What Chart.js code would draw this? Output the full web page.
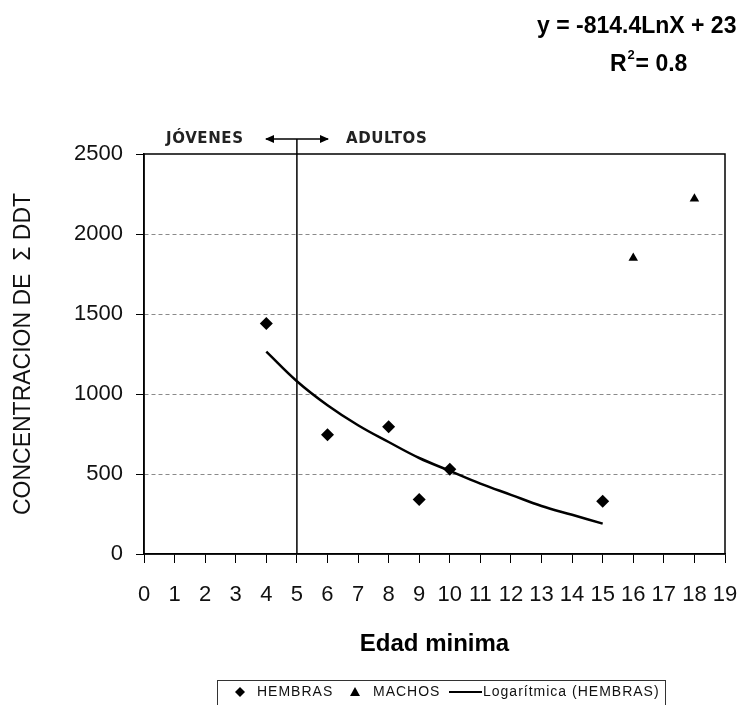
<!DOCTYPE html>
<html>
<head>
<meta charset="utf-8">
<script src="https://cdn.jsdelivr.net/npm/chart.js@4/dist/chart.umd.min.js"></script>
<style>
  html, body { margin: 0; padding: 0; background: #fff; }
</style>
</head>
<body>
<canvas id="grafico" width="740" height="705"></canvas>
<script>
// Datos
const edadHembras = [4, 6, 8, 9, 10, 15];
const ddtHembras = [1440, 745, 795, 340, 530, 330];
const edadMachos = [16, 18];
const ddtMachos = [1850, 2220];
// Curva logarítmica (HEMBRAS), leída punto a punto
const edadTendencia = [4, 5, 6, 7, 8, 9, 10, 11, 12, 13, 14, 15];
const ddtTendencia = [1265, 1080, 930, 805, 700, 600, 520, 440, 370, 300, 245, 190];
const ticksY = [0, 500, 1000, 1500, 2000, 2500];
const ticksX = [0, 1, 2, 3, 4, 5, 6, 7, 8, 9, 10, 11, 12, 13, 14, 15, 16, 17, 18, 19];
const limiteEdad = 5;

const toXY = (xs, ys) => xs.map((x, i) => ({ x: x, y: ys[i] }));

// Dibujos extra: marco, línea de 5 años, flechas, ecuación, leyenda
const extras = {
  id: "extras",
  afterDraw(chart) {
    const ctx = chart.ctx;
    const a = chart.chartArea;
    const xs = chart.scales.x;
    ctx.save();
    ctx.strokeStyle = "#000";
    ctx.fillStyle = "#000";

    // marco del área
    ctx.lineWidth = 1.5;
    ctx.strokeRect(a.left, a.top, a.right - a.left, a.bottom - a.top);

    // línea jóvenes / adultos
    const x5 = xs.getPixelForValue(limiteEdad);
    const yFlecha = 139;
    ctx.beginPath();
    ctx.moveTo(x5, yFlecha);
    ctx.lineTo(x5, a.bottom);
    ctx.stroke();

    ctx.beginPath();
    ctx.moveTo(266, yFlecha);
    ctx.lineTo(328, yFlecha);
    ctx.stroke();
    [[265, 1], [329, -1]].forEach(([px, d]) => {
      ctx.beginPath();
      ctx.moveTo(px, yFlecha);
      ctx.lineTo(px + 9 * d, yFlecha - 4);
      ctx.lineTo(px + 9 * d, yFlecha + 4);
      ctx.closePath();
      ctx.fill();
    });

    ctx.font = "bold 15px 'DejaVu Sans'";
    ctx.letterSpacing = "0.6px";
    ctx.textBaseline = "middle";
    ctx.textAlign = "left";
    ctx.fillStyle = "#222";
    ctx.fillText("JÓVENES", 166, yFlecha);
    ctx.fillText("ADULTOS", 346, yFlecha);
    ctx.letterSpacing = "0px";

    // ecuación
    ctx.fillStyle = "#000";
    ctx.font = "bold 23px 'Liberation Sans'";
    ctx.textBaseline = "alphabetic";
    ctx.fillText("y = -814.4LnX + 23", 537, 33);
    ctx.fillText("R", 610, 71);
    const wR = ctx.measureText("R").width;
    ctx.font = "bold 13px 'Liberation Sans'";
    ctx.fillText("2", 610 + wR + 1, 59);
    ctx.font = "bold 23px 'Liberation Sans'";
    ctx.fillText("= 0.8", 610 + wR + 9, 71);

    // leyenda
    ctx.lineWidth = 1;
    ctx.strokeStyle = "#333";
    ctx.strokeRect(217.5, 680.5, 448, 40);
    const yL = 692;
    ctx.fillStyle = "#000";
    ctx.beginPath();
    ctx.moveTo(240, yL - 5); ctx.lineTo(245, yL); ctx.lineTo(240, yL + 5); ctx.lineTo(235, yL);
    ctx.closePath(); ctx.fill();
    ctx.beginPath();
    ctx.moveTo(355, yL - 5); ctx.lineTo(360, yL + 4); ctx.lineTo(350, yL + 4);
    ctx.closePath(); ctx.fill();
    ctx.lineWidth = 2;
    ctx.strokeStyle = "#000";
    ctx.beginPath(); ctx.moveTo(449, yL); ctx.lineTo(482, yL); ctx.stroke();
    ctx.font = "14px 'Liberation Sans'";
    ctx.letterSpacing = "1px";
    ctx.textBaseline = "middle";
    ctx.fillStyle = "#111";
    ctx.fillText("HEMBRAS", 257, yL);
    ctx.fillText("MACHOS", 373, yL);
    ctx.fillText("Logarítmica (HEMBRAS)", 483, yL);
    ctx.restore();
  }
};

new Chart(document.getElementById("grafico"), {
  type: "scatter",
  data: {
    datasets: [
      {
        label: "HEMBRAS",
        data: toXY(edadHembras, ddtHembras),
        pointStyle: "rectRot",
        pointRadius: 6.5,
        backgroundColor: "#000",
        borderColor: "#000",
        borderWidth: 0
      },
      {
        label: "MACHOS",
        data: toXY(edadMachos, ddtMachos),
        pointStyle: "triangle",
        pointRadius: 5.5,
        backgroundColor: "#000",
        borderColor: "#000",
        borderWidth: 0
      },
      {
        label: "Logarítmica (HEMBRAS)",
        type: "line",
        data: toXY(edadTendencia, ddtTendencia),
        showLine: true,
        borderColor: "#000",
        borderWidth: 2.5,
        pointRadius: 0,
        tension: 0.4,
        fill: false
      }
    ]
  },
  options: {
    responsive: false,
    animation: false,
    layout: { padding: { top: 154, right: 15, left: 0, bottom: 0 } },
    plugins: {
      legend: { display: false },
      tooltip: { enabled: false }
    },
    scales: {
      x: {
        type: "linear",
        min: 0,
        max: 19,
        afterBuildTicks: s => { s.ticks = ticksX.map(v => ({ value: v })); },
        afterFit: s => { s.height = 705 - 554; s.paddingLeft = 0; s.paddingRight = 0; },
        grid: { drawOnChartArea: false, tickLength: 9, tickColor: "#000", color: "#000" },
        border: { color: "#000", width: 1.5 },
        ticks: { color: "#111", padding: 19, font: { family: "Liberation Sans", size: 22 } },
        title: {
          display: true,
          text: "Edad minima",
          color: "#000",
          font: { family: "Liberation Sans", size: 24, weight: "bold" },
          padding: { top: 0, bottom: 46 }
        }
      },
      y: {
        min: 0,
        max: 2500,
        afterBuildTicks: s => { s.ticks = ticksY.map(v => ({ value: v })); },
        afterFit: s => { s.width = 144; s.paddingTop = 0; s.paddingBottom = 0; },
        grid: {
          color: c => (c.tick && (c.tick.value === 0 || c.tick.value === 2500)) ? "rgba(0,0,0,0)" : "#8a8a8a",
          tickColor: "#000",
          tickLength: 8,
          tickBorderDash: []
        },
        border: { color: "#000", width: 1.5, dash: [4, 3] },
        ticks: {
          color: "#111",
          padding: 13,
          font: { family: "Liberation Sans", size: 22 },
          callback: v => String(v)
        },
        title: {
          display: true,
          text: "CONCENTRACION DE  Σ DDT",
          color: "#111",
          font: { family: "Liberation Sans", size: 23 },
          padding: { top: 10, bottom: 0 }
        }
      }
    }
  },
  plugins: [extras]
});
</script>
</body>
</html>
